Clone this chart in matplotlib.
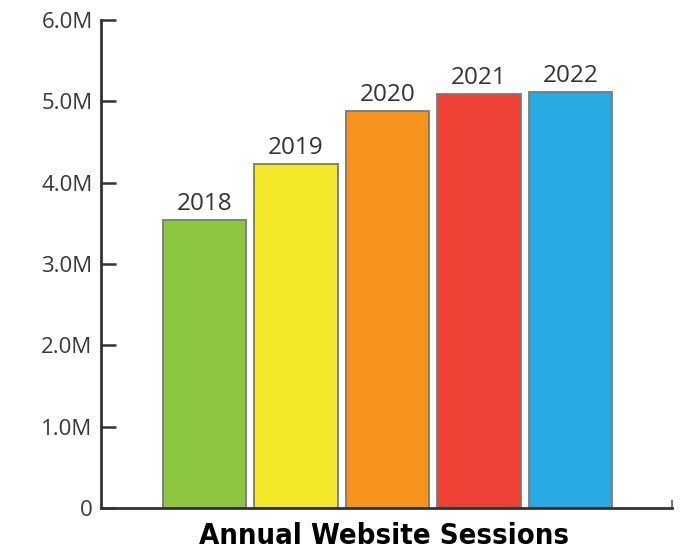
import matplotlib.pyplot as plt

years = ['2018', '2019', '2020', '2021', '2022']
sessions = [3.54, 4.23, 4.88, 5.09, 5.12]  # millions
colors = ['#8DC63F', '#F5E82A', '#F7941D', '#EF4136', '#27AAE1']
yticks = [0, 1, 2, 3, 4, 5, 6]
ytick_labels = ['0', '1.0M', '2.0M', '3.0M', '4.0M', '5.0M', '6.0M']

fig = plt.figure(figsize=(6.86, 5.57), dpi=100)
ax = fig.add_axes([0.147, 0.088, 0.833, 0.876])

x = range(len(years))
bars = ax.bar(x, sessions, width=0.91, color=colors, edgecolor='#7a7a7a', linewidth=1.3)
for b, lab in zip(bars, years):
    ax.text(b.get_x() + b.get_width() / 2, b.get_height() + 0.05, lab,
            ha='center', va='bottom', fontsize=17.5, color='#333333', family='Open Sans')

ax.set_xlim(-1.13, 5.11)
ax.set_ylim(0, 6)
ax.set_yticks(yticks)
ax.set_yticklabels(ytick_labels, fontsize=16, color='#383838', family='Open Sans')
ax.set_xticks([])
ax.tick_params(axis='y', direction='in', length=11, width=1.8, color='#333333', pad=6)

for s in ['top', 'right']:
    ax.spines[s].set_visible(False)
for s in ['left', 'bottom']:
    ax.spines[s].set_color('#333333')
    ax.spines[s].set_linewidth(2)
ax.plot([1, 1], [0, 0.015], transform=ax.transAxes, color='#777777', lw=1.5, clip_on=False)

ax.set_xlabel('Annual Website Sessions', fontsize=21, fontweight='bold',
              fontstretch='condensed', color='black')
ax.xaxis.set_label_coords(0.495, -0.028, transform=ax.transAxes)
ax.xaxis.label.set_va('top')

fig.savefig('out.png', dpi=100)
